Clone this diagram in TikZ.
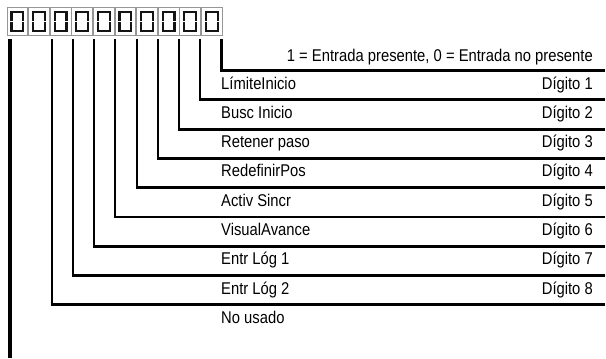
\documentclass[tikz,border=0pt]{standalone}
\usepackage{fontspec}
\setmainfont{Liberation Sans}[FakeStretch=0.87]
\usepackage{tikz}
\usetikzlibrary{positioning}
\definecolor{DigitFrame}{RGB}{150, 150, 150}
\definecolor{DigitInk}{RGB}{20, 20, 20}

\tikzset{
  digitbox/.style={draw=DigitFrame, line width=0.9pt,
    minimum width=20.8pt, minimum height=28pt, inner sep=0pt},
  bitline/.style={line width=2.9pt, line cap=butt},
  bitlabel/.style={anchor=base west, inner sep=0pt, font=\fontsize{17}{19}\selectfont},
  digitlabel/.style={anchor=base east, inner sep=0pt, font=\fontsize{17}{19}\selectfont}
}

\begin{document}
\begin{tikzpicture}[x=1pt, y=-1pt]
    \useasboundingbox (0,0) rectangle (606,359);

    % row of digit boxes
    \foreach \i in {1,...,10} {
      \node[digitbox] (box\i) at ({17.4+21.6*(\i-1)}, 21.5) {};
      \draw[DigitInk, line width=2.2pt]
        ([xshift=5pt, yshift=-5pt]box\i.north west) rectangle ([xshift=-5pt, yshift=5pt]box\i.south east);
      \draw[white, line width=0.8pt] ([xshift=3.5pt]box\i.west) -- ++(3pt,0);
      \draw[white, line width=0.8pt] ([xshift=-3.5pt]box\i.east) -- ++(-3pt,0);
    }

    % bit lines
    \coordinate (top0) at (10,39);
    \coordinate (bot0) at (10,358);
    \draw[bitline, line width=3.3pt] (top0) -- (bot0);
    \foreach \x [count=\n] in {221.5, 200, 179, 158, 137, 115, 94, 73, 52} {
      \coordinate (top\n) at (\x,39);
      \coordinate (end\n) at (605, {70.5+29.3*(\n-1)});
      \draw[bitline] (top\n) |- (end\n);
    }

    % legend
    \node[digitlabel] (legend) at (593,61.5) {1 = Entrada presente, 0 = Entrada no presente};

    % bit names
    \foreach \txt [count=\n] in {LímiteInicio, Busc Inicio, Retener paso, RedefinirPos,
        Activ Sincr, VisualAvance, Entr Lóg 1, Entr Lóg 2, No usado} {
      \node[bitlabel] (lab\n) at (221, {89+29.3*(\n-1)}) {\txt};
    }
    \foreach \n in {1,...,8} {
      \node[digitlabel] (dig\n) at (593, {89+29.3*(\n-1)}) {Dígito \n};
    }
\end{tikzpicture}
\end{document}
